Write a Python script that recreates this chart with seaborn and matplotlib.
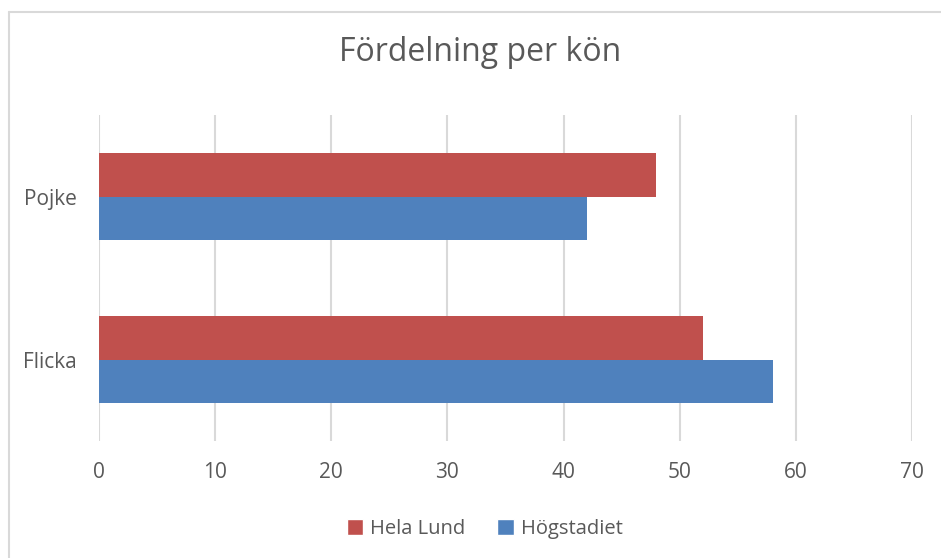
import pandas as pd
import numpy as np
import matplotlib.pyplot as plt
import seaborn as sns
from matplotlib.lines import Line2D
from matplotlib.patches import Patch

# data
categories = ['Pojke', 'Flicka']
series = ['Hela Lund', 'Högstadiet']
hela_lund = [48, 52]
hogstadiet = [42, 58]
x_ticks = [0, 10, 20, 30, 40, 50, 60, 70]

df = pd.DataFrame({
    'kon': categories * 2,
    'grupp': [series[0]] * 2 + [series[1]] * 2,
    'andel': hela_lund + hogstadiet,
})

sns.set_theme(style='white')
plt.rcParams['font.family'] = ['Open Sans', 'DejaVu Sans']

colors = {'Hela Lund': '#c0504d', 'Högstadiet': '#4f81bd'}
text_col = '#595959'

fig = plt.figure(figsize=(9.41, 5.58), dpi=100)
ax = fig.add_axes([0.1052, 0.2097, 0.864, 0.584])

sns.barplot(data=df, x='andel', y='kon', hue='grupp', order=categories,
            hue_order=series, palette=colors, width=0.53, saturation=1,
            linewidth=0, ax=ax, legend=False, zorder=3)

ax.set_xlim(0, 70)
ax.set_ylim(1.5, -0.5)
ax.set_xticks(x_ticks)
ax.grid(axis='x', color='#d9d9d9', linewidth=1.5, zorder=0)
ax.grid(axis='y', visible=False)
for s in ax.spines.values():
    s.set_visible(False)
ax.set_xlabel('')
ax.set_ylabel('')
ax.tick_params(axis='both', length=0, labelsize=15, labelcolor=text_col)
ax.tick_params(axis='x', pad=15)
ax.tick_params(axis='y', pad=16)

fig.text(0.510, 0.891, 'Fördelning per kön', ha='center', va='baseline',
         fontsize=23, color=text_col)

handles = [Patch(facecolor=colors[s], label=s) for s in series]
fig.legend(handles=handles, loc='center', bbox_to_anchor=(0.515, 0.052),
           ncol=2, frameon=False, fontsize=14.5, labelcolor=text_col,
           handlelength=0.8, handleheight=0.8, handletextpad=0.35,
           columnspacing=1.6)

# chart frame (only left and top edges visible in the crop)
fig.add_artist(Line2D([9 / 941, 9 / 941], [0, 1 - 12 / 558],
                      transform=fig.transFigure, color='#d9d9d9', lw=1.5))
fig.add_artist(Line2D([9 / 941, 1], [1 - 12 / 558, 1 - 12 / 558],
                      transform=fig.transFigure, color='#d9d9d9', lw=1.5))

fig.savefig('out.png', dpi=100)
